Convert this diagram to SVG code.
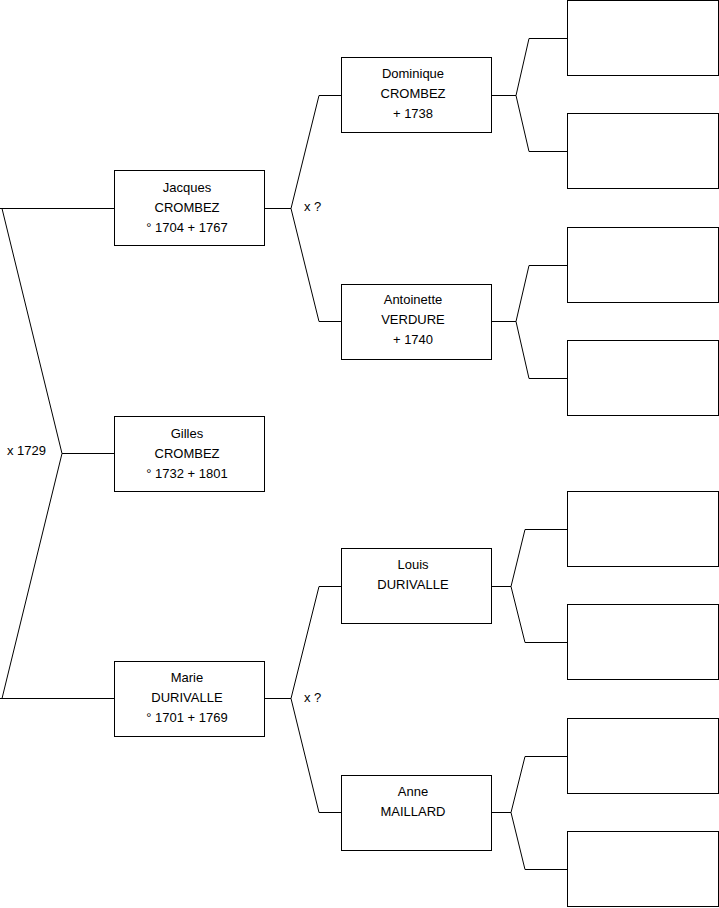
<svg xmlns="http://www.w3.org/2000/svg" width="719" height="908" viewBox="0 0 719 908">
<style>
.box{fill:#fff;stroke:#000;stroke-width:1}
.ln{fill:none;stroke:#000;stroke-width:1}
text{font-family:"Liberation Sans",Arial,sans-serif;font-size:13px;fill:#000}
.c{text-anchor:middle}
</style>
<rect width="719" height="908" fill="#fff"/>
<g id="connectors">
<path class="ln" d="M0,208.5H114.5M2,208.5L62,453.5L2,698.5M62,453.5H114.5M0,698.5H114.5"/>
<path class="ln" d="M265,208.5H291M319,95.5L291,208.5L319,321.5M319,95.5H341M319,321.5H341"/>
<path class="ln" d="M265,698.5H291M319,586.5L291,698.5L319,812.5M319,586.5H341M319,812.5H341"/>
<path class="ln" d="M492,95.5H516M529,38.5L516,95.5L529,151.5M529,38.5H567M529,151.5H567"/>
<path class="ln" d="M492,321.5H516M529,265.5L516,321.5L529,378.5M529,265.5H567M529,378.5H567"/>
<path class="ln" d="M492,586.5H511M525,529.5L511,586.5L525,642.5M525,529.5H567M525,642.5H567"/>
<path class="ln" d="M492,812.5H511M525,756.5L511,812.5L525,869.5M525,756.5H567M525,869.5H567"/>
</g>
<g id="labels">
<text x="7" y="455">x 1729</text>
<text x="304" y="211">x ?</text>
<text x="304" y="702">x ?</text>
</g>
<g id="jacques"><rect class="box" x="114.5" y="170.5" width="150" height="75"/>
<text class="c" x="187" y="191.5">Jacques</text><text class="c" x="187" y="211.5">CROMBEZ</text><text class="c" x="187" y="231.5">° 1704 + 1767</text></g>
<g id="gilles"><rect class="box" x="114.5" y="416.5" width="150" height="75"/>
<text class="c" x="187" y="437.5">Gilles</text><text class="c" x="187" y="457.5">CROMBEZ</text><text class="c" x="187" y="477.5">° 1732 + 1801</text></g>
<g id="marie"><rect class="box" x="114.5" y="661.5" width="150" height="75"/>
<text class="c" x="187" y="682">Marie</text><text class="c" x="187" y="702">DURIVALLE</text><text class="c" x="187" y="722">° 1701 + 1769</text></g>
<g id="dominique"><rect class="box" x="341.5" y="57.5" width="150" height="75"/>
<text class="c" x="413" y="77.5">Dominique</text><text class="c" x="413" y="97.5">CROMBEZ</text><text class="c" x="413" y="117.5">+ 1738</text></g>
<g id="antoinette"><rect class="box" x="341.5" y="284.5" width="150" height="75"/>
<text class="c" x="413" y="304">Antoinette</text><text class="c" x="413" y="324">VERDURE</text><text class="c" x="413" y="344">+ 1740</text></g>
<g id="louis"><rect class="box" x="341.5" y="548.5" width="150" height="75"/>
<text class="c" x="413" y="568.5">Louis</text><text class="c" x="413" y="589">DURIVALLE</text></g>
<g id="anne"><rect class="box" x="341.5" y="775.5" width="150" height="75"/>
<text class="c" x="413" y="795.5">Anne</text><text class="c" x="413" y="816">MAILLARD</text></g>
<g id="p1"><rect class="box" x="567.5" y="0.5" width="151" height="75"/></g>
<g id="p2"><rect class="box" x="567.5" y="113.5" width="151" height="75"/></g>
<g id="p3"><rect class="box" x="567.5" y="227.5" width="151" height="75"/></g>
<g id="p4"><rect class="box" x="567.5" y="340.5" width="151" height="75"/></g>
<g id="p5"><rect class="box" x="567.5" y="491.5" width="151" height="75"/></g>
<g id="p6"><rect class="box" x="567.5" y="604.5" width="151" height="75"/></g>
<g id="p7"><rect class="box" x="567.5" y="718.5" width="151" height="75"/></g>
<g id="p8"><rect class="box" x="567.5" y="831.5" width="151" height="75"/></g>
</svg>
